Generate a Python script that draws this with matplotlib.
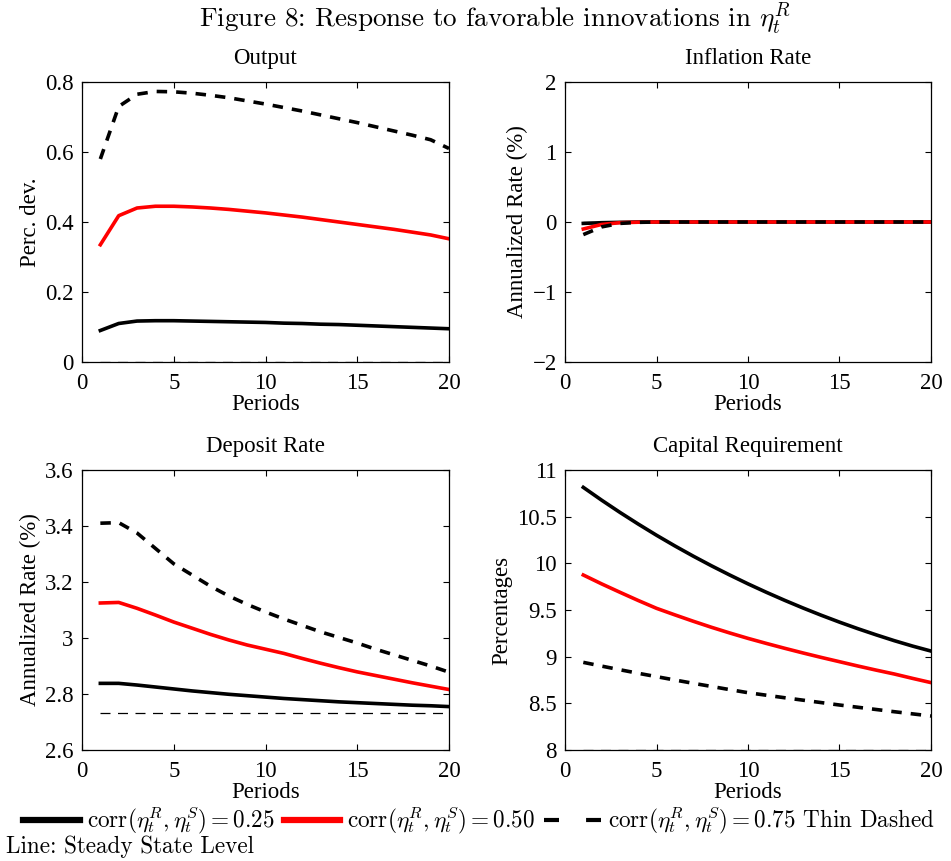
import matplotlib
matplotlib.use("Agg")
import matplotlib.pyplot as plt
from matplotlib.lines import Line2D
from matplotlib.ticker import FuncFormatter

plt.rcParams["font.family"] = "Liberation Serif"
plt.rcParams["mathtext.fontset"] = "cm"

periods = list(range(1, 21))

# ── Output (perc. dev.) ──────────────────────────────────────────────
output_025 = [0.090, 0.110, 0.117, 0.118, 0.118, 0.117, 0.116, 0.115, 0.114, 0.113,
              0.111, 0.110, 0.108, 0.107, 0.105, 0.103, 0.101, 0.099, 0.097, 0.095]
output_050 = [0.335, 0.418, 0.440, 0.445, 0.445, 0.443, 0.440, 0.436, 0.431, 0.426,
              0.420, 0.414, 0.407, 0.400, 0.393, 0.386, 0.379, 0.371, 0.363, 0.352]
output_075 = [0.580, 0.730, 0.765, 0.773, 0.772, 0.768, 0.762, 0.755, 0.746, 0.737,
              0.727, 0.717, 0.706, 0.695, 0.684, 0.672, 0.660, 0.648, 0.635, 0.610]
output_ss = 0.0

# ── Inflation rate (annualized %) ────────────────────────────────────
infl_025 = [-0.02, -0.01, -0.005, 0, 0, 0, 0, 0, 0, 0, 0, 0, 0, 0, 0, 0, 0, 0, 0, 0]
infl_050 = [-0.10, -0.035, -0.01, -0.003, 0, 0, 0, 0, 0, 0, 0, 0, 0, 0, 0, 0, 0, 0, 0, 0]
infl_075 = [-0.18, -0.07, -0.02, -0.005, 0, 0, 0, 0, 0, 0, 0, 0, 0, 0, 0, 0, 0, 0, 0, 0]
infl_ss = 0.0

# ── Deposit rate (annualized %) ──────────────────────────────────────
dep_025 = [2.838, 2.838, 2.832, 2.825, 2.818, 2.811, 2.805, 2.799, 2.794, 2.789,
           2.784, 2.780, 2.776, 2.772, 2.769, 2.766, 2.763, 2.760, 2.758, 2.755]
dep_050 = [3.125, 3.127, 3.106, 3.082, 3.057, 3.035, 3.013, 2.993, 2.975, 2.960,
           2.945, 2.927, 2.910, 2.894, 2.879, 2.866, 2.853, 2.840, 2.828, 2.816]
dep_075 = [3.410, 3.412, 3.375, 3.320, 3.265, 3.225, 3.185, 3.150, 3.120, 3.093,
           3.068, 3.045, 3.022, 3.002, 2.982, 2.960, 2.940, 2.920, 2.900, 2.878]
dep_ss = 2.733

# ── Capital requirement (percentages) ────────────────────────────────
cap_025 = [10.814, 10.677, 10.546, 10.421, 10.301, 10.187, 10.078, 9.974, 9.875, 9.780,
           9.690, 9.604, 9.522, 9.444, 9.370, 9.300, 9.234, 9.171, 9.113, 9.060]
cap_050 = [9.875, 9.780, 9.690, 9.602, 9.518, 9.448, 9.380, 9.315, 9.254, 9.196,
           9.142, 9.090, 9.040, 8.992, 8.946, 8.900, 8.856, 8.814, 8.767, 8.722]
cap_075 = [8.939, 8.899, 8.860, 8.822, 8.786, 8.750, 8.715, 8.681, 8.647, 8.614,
           8.587, 8.560, 8.534, 8.508, 8.482, 8.458, 8.434, 8.410, 8.387, 8.364]
cap_ss = 8.0

panels = [
    ("Output", "Perc. dev.", output_025, output_050, output_075, output_ss,
     (0, 0.8), [0, 0.2, 0.4, 0.6, 0.8]),
    ("Inflation Rate", "Annualized Rate (%)", infl_025, infl_050, infl_075, infl_ss,
     (-2, 2), [-2, -1, 0, 1, 2]),
    ("Deposit Rate", "Annualized Rate (%)", dep_025, dep_050, dep_075, dep_ss,
     (2.6, 3.6), [2.6, 2.8, 3.0, 3.2, 3.4, 3.6]),
    ("Capital Requirement", "Percentages", cap_025, cap_050, cap_075, cap_ss,
     (8, 11), [8, 8.5, 9, 9.5, 10, 10.5, 11]),
]

W, H = 951, 861
fig = plt.figure(figsize=(W / 100, H / 100), dpi=100)

# axes boxes in pixels: left, top, right, bottom
boxes = [(82, 82, 449, 362), (565, 82, 931, 362),
         (82, 470, 449, 750), (565, 470, 931, 750)]

LW = 2.6
DASH = (0, (2.9, 2.5))
FS = 16.5

fmt = FuncFormatter(lambda v, pos: ("%g" % v).replace("-", "\u2212"))

for (title, ylab, s1, s2, s3, ss, ylim, yt), (l, t, r, b) in zip(panels, boxes):
    ax = fig.add_axes([l / W, 1 - b / H, (r - l) / W, (b - t) / H])
    ax.plot(periods, s1, color="black", lw=LW)
    ax.plot(periods, s2, color="red", lw=LW)
    ax.plot(periods, s3, color="black", lw=LW, linestyle=DASH)
    ax.plot(periods, [ss] * len(periods), color="black", lw=0.9,
            linestyle=(0, (8, 6)), zorder=1)
    ax.set_xlim(0, 20)
    ax.set_ylim(*ylim)
    ax.set_xticks([0, 5, 10, 15, 20])
    ax.set_yticks(yt)
    ax.yaxis.set_major_formatter(fmt)
    ax.tick_params(direction="in", top=True, right=True, length=4,
                   labelsize=FS, width=0.8, pad=6)
    ax.tick_params(axis="x", pad=8)
    for sp in ax.spines.values():
        sp.set_linewidth(0.9)
    ax.set_title(title, fontsize=FS, pad=13)
    ax.set_xlabel("Periods", fontsize=FS, labelpad=0)
    ax.set_ylabel(ylab, fontsize=FS, labelpad=3)

fig.text(0.52, 0.979, r"Figure 8: Response to favorable innovations in $\eta_t^R$",
         ha="center", va="center", fontsize=19.5, family="cmr10")

handles = [Line2D([], [], color="black", lw=4.5),
           Line2D([], [], color="red", lw=4.5),
           Line2D([], [], color="black", lw=3.0, linestyle=(0, (3.6, 6.5)))]
labels = [r"corr$(\eta_t^R,\eta_t^S) = 0.25$",
          r"corr$(\eta_t^R,\eta_t^S) = 0.50$",
          r"corr$(\eta_t^R,\eta_t^S) = 0.75$ Thin Dashed"]
fig.legend(handles, labels, loc="center left", bbox_to_anchor=(0.024, 0.046), ncol=3,
           frameon=False, prop={"family": "cmr10", "size": 16.7},
           handlelength=2.45, handletextpad=0.3, columnspacing=0.4,
           borderpad=0, borderaxespad=0)
fig.text(0.006, 0.016, "Line: Steady State Level", ha="left", va="center",
         fontsize=16.7, family="cmr10")

fig.savefig("out.png", dpi=100)
